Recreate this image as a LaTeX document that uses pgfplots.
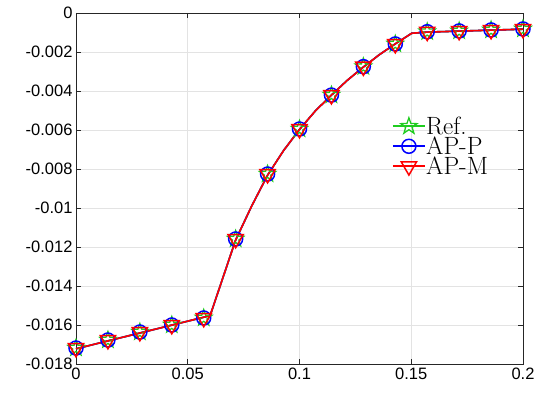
\documentclass[border=0pt]{standalone}
\usepackage{fontspec}
\usepackage{pgfplots}
\pgfplotsset{compat=1.18}
\newfontfamily\tickfont{Liberation Sans}
\definecolor{refgreen}{rgb}{0.12,0.80,0.12}
\definecolor{axgray}{rgb}{0.15,0.15,0.15}

% five-pointed star outline
\pgfdeclareplotmark{pentagram}{%
  \pgfpathmoveto{\pgfpointpolar{90}{\pgfplotmarksize}}%
  \pgfpathlineto{\pgfpointpolar{126}{0.40\pgfplotmarksize}}%
  \pgfpathlineto{\pgfpointpolar{162}{\pgfplotmarksize}}%
  \pgfpathlineto{\pgfpointpolar{198}{0.40\pgfplotmarksize}}%
  \pgfpathlineto{\pgfpointpolar{234}{\pgfplotmarksize}}%
  \pgfpathlineto{\pgfpointpolar{270}{0.40\pgfplotmarksize}}%
  \pgfpathlineto{\pgfpointpolar{306}{\pgfplotmarksize}}%
  \pgfpathlineto{\pgfpointpolar{342}{0.40\pgfplotmarksize}}%
  \pgfpathlineto{\pgfpointpolar{18}{\pgfplotmarksize}}%
  \pgfpathlineto{\pgfpointpolar{54}{0.40\pgfplotmarksize}}%
  \pgfpathclose\pgfusepathqstroke}

% solution profile on the fine mesh
\pgfplotstableread{
x        p
0        -0.01722
0.06     -0.01552
0.0714   -0.01165
0.0786   -0.00990
0.0857   -0.00832
0.0929   -0.00705
0.1      -0.00597
0.1071   -0.00502
0.1143   -0.00421
0.1214   -0.00345
0.1286   -0.00277
0.1357   -0.00214
0.1429   -0.00158
0.1502   -0.00104
0.1571   -0.00098
0.1714   -0.00093
0.1857   -0.00088
0.2      -0.00083
}\fine

% values sampled at the marker stations
\pgfplotstableread{
x        p
0        -0.01718
0.014286 -0.01677
0.028571 -0.01636
0.042857 -0.01600
0.057143 -0.01564
0.071429 -0.01159
0.085714 -0.00826
0.1      -0.00595
0.114286 -0.00421
0.128571 -0.00275
0.142857 -0.00159
0.157143 -0.00096
0.171429 -0.00092
0.185714 -0.00087
0.2      -0.00082
}\coarse

\pgfplotsset{
  refmark/.style={mark=pentagram, mark size=8.5pt, mark options={line width=1.3pt}},
  apPmark/.style={mark=o, mark size=7pt, mark options={line width=1.5pt}},
  apMmark/.style={mark=triangle, mark size=8.8pt, mark options={rotate=180, line width=1.5pt}},
}

\begin{document}
\begin{tikzpicture}
\begin{axis}[
  scale only axis,
  width=447pt, height=351pt,
  xmin=0, xmax=0.2, ymin=-0.018, ymax=0,
  xtick={0,0.05,0.1,0.15,0.2},
  xticklabels={0,0.05,0.1,0.15,0.2},
  ytick={-0.018,-0.016,-0.014,-0.012,-0.01,-0.008,-0.006,-0.004,-0.002,0},
  yticklabels={-0.018,-0.016,-0.014,-0.012,-0.01,-0.008,-0.006,-0.004,-0.002,0},
  scaled ticks=false,
  tick label style={font=\tickfont\fontsize{16.5}{18}\selectfont, text=black},
  tick align=inside,
  major tick length=5pt,
  every tick/.style={axgray, line width=0.6pt},
  axis line style={axgray, line width=0.8pt},
  grid=major,
  major grid style={gray!22, line width=0.8pt},
  legend image code/.code={%
    \draw[mark repeat=2,mark phase=2] plot coordinates {(0pt,0pt)(16pt,0pt)(32pt,0pt)};},
  legend style={draw=none, fill=none, at={(0.70,0.712)}, anchor=north west,
    font=\fontsize{25}{25}\selectfont, row sep=0pt,
    nodes={inner sep=0.5pt, text height=18pt, text depth=1pt}},
  legend cell align=left,
]
% Ref.
\addplot[refgreen, line width=1.6pt, forget plot] table {\fine};
\addplot[refgreen, only marks, refmark, forget plot] table {\coarse};
% AP-P
\addplot[blue, line width=1.6pt, forget plot] table {\fine};
\addplot[blue, only marks, apPmark, forget plot] table {\coarse};
% AP-M
\addplot[red, line width=1.6pt, forget plot] table {\fine};
\addplot[red, only marks, apMmark, forget plot] table {\coarse};

\addlegendimage{refgreen, line width=1.6pt, refmark}
\addlegendentry{Ref.}
\addlegendimage{blue, line width=1.6pt, apPmark}
\addlegendentry{AP-P}
\addlegendimage{red, line width=1.6pt, apMmark}
\addlegendentry{AP-M}
\end{axis}
\pgfresetboundingbox
\path ([shift={(-76pt,-32pt)}]current axis.south west) rectangle ([shift={(19pt,13pt)}]current axis.north east);
\end{tikzpicture}
\end{document}
